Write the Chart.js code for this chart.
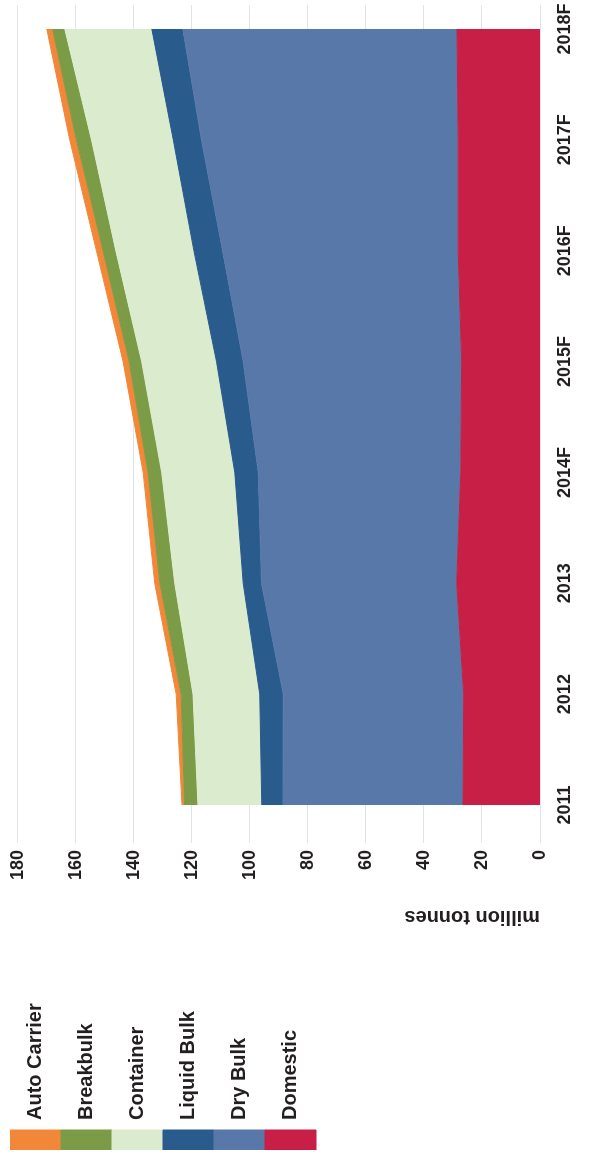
<!DOCTYPE html>
<html>
<head>
<meta charset="utf-8">
<script src="https://cdn.jsdelivr.net/npm/chart.js@4"></script>
<style>
  html, body { margin: 0; padding: 0; background: #fff; overflow: hidden; }
  /* the chart is printed sideways: draw it upright, then turn it a quarter left */
  #wrap {
    position: absolute; left: 0; top: 0;
    width: 1157px; height: 591px;
    transform-origin: 0 0;
    transform: translateY(1157px) rotate(-90deg);
  }
</style>
</head>
<body>
<div id="wrap"><canvas id="portChart" width="1157" height="591"></canvas></div>
<script>
// Port throughput by cargo type (million tonnes)

const years = ['2011', '2012', '2013', '2014F', '2015F', '2016F', '2017F', '2018F'];

const domestic    = [26.5, 26.3, 28.7, 27.3, 27.0, 28.2, 28.2, 28.6];
const dryBulk     = [62.1, 62.2, 67.3, 69.8, 75.3, 81.2, 88.5, 94.5];
const liquidBulk  = [7.3, 8.1, 6.3, 8.1, 9.2, 9.9, 9.7, 10.7];
const container   = [22.0, 23.0, 23.6, 25.2, 25.8, 26.9, 28.2, 30.0];
const breakbulk   = [4.6, 4.1, 5.1, 4.7, 4.3, 4.4, 5.2, 4.2];
const autoCarrier = [0.9, 1.7, 1.8, 1.7, 2.1, 2.3, 2.3, 2.0];

const yTicks = [0, 20, 40, 60, 80, 100, 120, 140, 160, 180];

const textColor = '#231f20';
const fontFamily = "'Liberation Sans', Arial, sans-serif";

// plot area should start 352px from the left edge (upright drawing)
const plotLeft = 352;
const padLeft = 7;
const titleCenter = 240;

// x is a plain index so the grid can run a little past 2018F, like the print
function toPoints(values) {
    return values.map((v, i) => ({ x: i, y: v }));
}

function makeSeries(label, values, color, fill) {
    return {
        label: label,
        data: toPoints(values),
        backgroundColor: color,
        borderColor: color,
        borderWidth: 1,
        pointRadius: 0,
        tension: 0,
        fill: fill
    };
}

const ctx = document.getElementById('portChart').getContext('2d');

// legend width decides where the axis title goes, so measure it first
ctx.font = 'bold 20px ' + fontFamily;
const longest = Math.max(...['Auto Carrier', 'Breakbulk', 'Container', 'Liquid Bulk', 'Dry Bulk', 'Domestic']
    .map(t => ctx.measureText(t).width));
const legendWidth = 20 + 10 + longest + 10;
const titlePad = Math.max(0, titleCenter - 12 - (padLeft + legendWidth));

const portChart = new Chart(ctx, {
    type: 'line',
    data: {
        datasets: [
            makeSeries('Domestic', domestic, '#c71f46', 'origin'),
            makeSeries('Dry Bulk', dryBulk, '#5878aa', '-1'),
            makeSeries('Liquid Bulk', liquidBulk, '#2a5b8d', '-1'),
            makeSeries('Container', container, '#dbecce', '-1'),
            makeSeries('Breakbulk', breakbulk, '#7c9b46', '-1'),
            makeSeries('Auto Carrier', autoCarrier, '#f2873a', '-1')
        ]
    },
    options: {
        responsive: false,
        animation: false,
        devicePixelRatio: 1,
        layout: {
            padding: { left: padLeft, top: 10, right: 5, bottom: 0 }
        },
        plugins: {
            legend: {
                position: 'left',
                align: 'start',
                reverse: true,
                labels: {
                    boxWidth: 20,
                    boxHeight: 51,
                    padding: 0,
                    color: textColor,
                    font: { family: fontFamily, size: 20, weight: 'bold' }
                }
            },
            tooltip: { enabled: false }
        },
        scales: {
            x: {
                type: 'linear',
                min: 0,
                max: 7.216,
                afterFit: (scale) => { scale.height = 51; },
                border: { display: false },
                grid: {
                    display: true,
                    drawOnChartArea: false,
                    color: 'rgba(0,0,0,0)',
                    tickLength: 14
                },
                ticks: {
                    stepSize: 1,
                    includeBounds: false,
                    autoSkip: false,
                    maxRotation: 0,
                    padding: 0,
                    color: textColor,
                    font: { family: fontFamily, size: 18, weight: 'bold' },
                    callback: (value) => Number.isInteger(value) ? years[value] : ''
                }
            },
            y: {
                stacked: true,
                min: yTicks[0],
                max: yTicks[yTicks.length - 1],
                afterFit: (scale) => {
                    const lw = scale.chart.legend ? scale.chart.legend.width : legendWidth;
                    scale.width = plotLeft - padLeft - lw;
                },
                afterBuildTicks: (scale) => {
                    scale.ticks = yTicks.map(v => ({ value: v }));
                },
                border: { display: false },
                grid: {
                    color: '#dde4ea',
                    lineWidth: 1,
                    tickLength: 38
                },
                ticks: {
                    padding: 7,
                    color: textColor,
                    font: { family: fontFamily, size: 18, weight: 'bold' }
                },
                title: {
                    display: true,
                    text: 'million tonnes',
                    align: 'start',
                    padding: { top: titlePad, bottom: 0 },
                    color: textColor,
                    font: { family: fontFamily, size: 20, weight: 'bold' }
                }
            }
        }
    }
});
</script>
</body>
</html>
